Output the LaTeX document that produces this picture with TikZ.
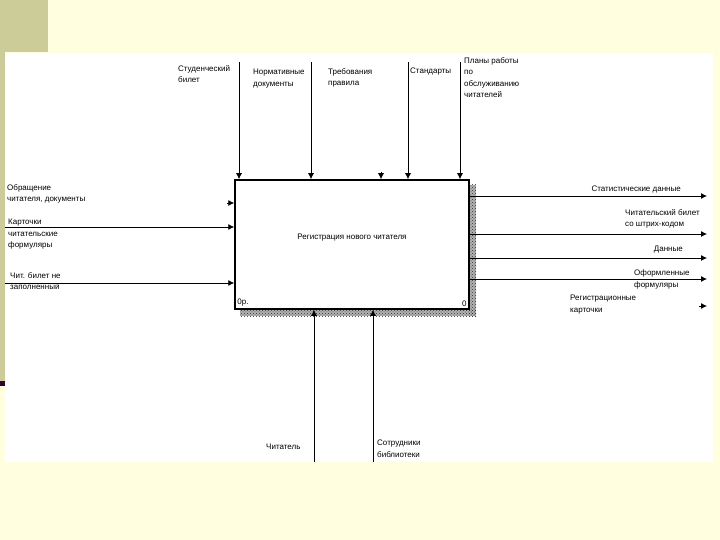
\documentclass[tikz,border=0pt]{standalone}
\usepackage{fontspec}
\setmainfont{Liberation Sans}
\usetikzlibrary{positioning, arrows.meta, patterns}
\definecolor{slidebg}{HTML}{FFFFE0}
\definecolor{slidebar}{HTML}{CCCC99}
\definecolor{slidemark}{HTML}{330033}

\begin{document}
\begin{tikzpicture}[
        x=1pt, y=-1pt,
        box/.style={rectangle, draw, line width=1.5pt, fill=white, minimum width=234pt, minimum height=129pt},
        lbl/.style={inner sep=0pt, align=left, font=\fontsize{8}{11.5}\selectfont},
        arrow/.style={-{Latex[length=6pt, width=6pt]}, line width=0.8pt}
    ]
        % Slide background
        \useasboundingbox (0,0) rectangle (720,540);
        \fill[slidebg] (0,0) rectangle (720,540);
        \fill[slidebar] (0,0) rectangle (48,52);
        \fill[slidebar] (0,52) rectangle (5,381);
        \fill[slidemark] (0,381) rectangle (5,386);
        \fill[white] (5,53) rectangle (713,462);

        % Shadow of the box
        \fill[black!30] (469,185) rectangle (476,316);
        \fill[black!30] (240,309) rectangle (476,316);
        \fill[pattern=crosshatch dots, pattern color=black!80] (469,185) rectangle (476,316);
        \fill[pattern=crosshatch dots, pattern color=black!80] (240,309) rectangle (476,316);

        % Nodes
        \node (reg) [box] at (352,244.5) {};
        \node (regtext) [lbl] at ([yshift=7pt]reg.center) {Регистрация нового читателя};
        \node (num) [lbl, anchor=south west] at ([xshift=3pt, yshift=3pt]reg.south west) {0р.};
        \node (nodenum) [lbl, anchor=south east] at ([xshift=-3pt, yshift=3pt]reg.south east) {0};

        \node (card) [lbl, anchor=north west] at (178,65) {Студенческий\\билет};
        \node (norm) [lbl, anchor=north west] at (253,69) {Нормативные\\документы};
        \node (rules) [lbl, anchor=north west] at (328,68) {Требования\\правила};
        \node (std) [lbl, anchor=north west] at (410,68) {Стандарты};
        \node (plans) [lbl, anchor=north west] at (464,57) {Планы работы\\по\\обслуживанию\\читателей};

        \node (appeal) [lbl, anchor=north west] at (7,184) {Обращение\\читателя, документы};
        \node (forms) [lbl, anchor=north west] at (8,219) {Карточки\\читательские\\формуляры};
        \node (blank) [lbl, anchor=north west] at (10,272) {Чит. билет не\\заполненный};

        \node (stat) [lbl, anchor=north east] at (681,186) {Статистические данные};
        \node (barcode) [lbl, anchor=north west] at (625,209) {Читательский билет\\со штрих-кодом};
        \node (data) [lbl, anchor=north east] at (683,246) {Данные};
        \node (done) [lbl, anchor=north west] at (634,270) {Оформленные\\формуляры};
        \node (regcards) [lbl, anchor=north west] at (570,295) {Регистрационные\\карточки};

        \node (reader) [lbl, anchor=north west] at (266,444) {Читатель};
        \node (staff) [lbl, anchor=north west] at (377,440) {Сотрудники\\библиотеки};

        % Free ends
        \coordinate (c1) at (239,62);
        \coordinate (c2) at (311,62);
        \coordinate (c3) at (381,172);
        \coordinate (c4) at (408,62);
        \coordinate (c5) at (460,62);
        \coordinate (i1) at (227,203);
        \coordinate (i2) at (5,227);
        \coordinate (i3) at (5,283);
        \coordinate (o1) at (707,196);
        \coordinate (o2) at (707,234);
        \coordinate (o3) at (707,258);
        \coordinate (o4) at (707,279);
        \coordinate (o5a) at (699,306);
        \coordinate (o5) at (707,306);
        \coordinate (m1) at (314,462);
        \coordinate (m2) at (373,462);

        % Arrows
        \draw [arrow] (c1) -- (c1 |- reg.north);
        \draw [arrow] (c2) -- (c2 |- reg.north);
        \draw [arrow] (c3) -- (c3 |- reg.north);
        \draw [arrow] (c4) -- (c4 |- reg.north);
        \draw [arrow] (c5) -- (c5 |- reg.north);
        \draw [arrow] (i1) -- (i1 -| reg.west);
        \draw [arrow] (i2) -- (i2 -| reg.west);
        \draw [arrow] (i3) -- (i3 -| reg.west);
        \draw [arrow] (o1 -| reg.east) -- (o1);
        \draw [arrow] (o2 -| reg.east) -- (o2);
        \draw [arrow] (o3 -| reg.east) -- (o3);
        \draw [arrow] (o4 -| reg.east) -- (o4);
        \draw [arrow] (o5a) -- (o5);
        \draw [arrow] (m1) -- (m1 |- reg.south);
        \draw [arrow] (m2) -- (m2 |- reg.south);
    \end{tikzpicture}
\end{document}
